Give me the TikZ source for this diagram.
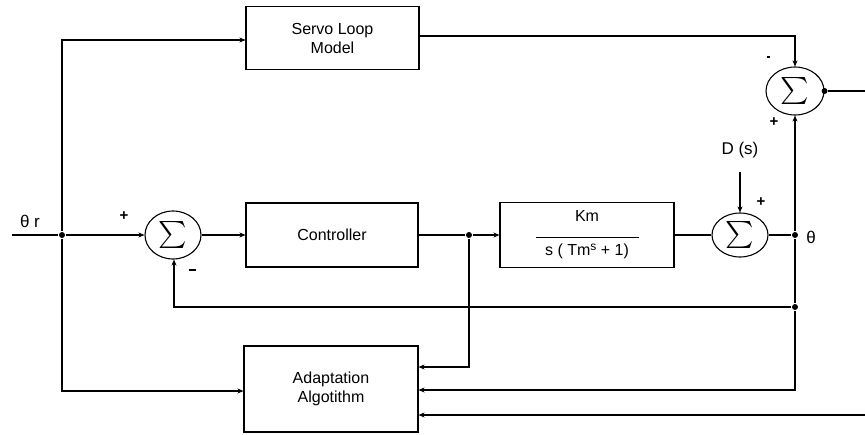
\documentclass[tikz,border=0pt]{standalone}
\usepackage{fontspec}
\setmainfont{Liberation Sans}
\usetikzlibrary{arrows.meta,shapes.geometric,calc}
\newcommand{\bigsig}{\scalebox{2.7}{$\sum$}}
\begin{document}
\begin{tikzpicture}[x=1pt,y=-1pt,line width=1.1pt,
  blk/.style={draw,rectangle,align=center,font=\fontsize{16}{19}\selectfont,inner sep=0pt},
  sumnode/.style={draw,ellipse,inner sep=0pt},
  arr/.style={-{Stealth[length=6pt,width=5pt]}},
  dotn/.style={circle,fill,inner sep=0pt,minimum size=6pt},
  lbl/.style={font=\fontsize{17}{19}\selectfont,inner sep=0pt},
  sgn/.style={font=\fontsize{15}{15}\selectfont\bfseries,inner sep=0pt}]
\useasboundingbox (0,0) rectangle (865,434);
% blocks
\node[blk,minimum width=173pt,minimum height=63pt] (servo) at (332.5,38) {Servo Loop\\Model};
\node[blk,minimum width=172pt,minimum height=64pt] (ctrl) at (332,235) {Controller};
\node[blk,minimum width=174pt,minimum height=65pt] (plant) at (587,235) {Km\\[-3pt]\rule{103pt}{1pt}\\[-1pt]s ( Tm\raisebox{5pt}{\fontsize{12}{12}\selectfont s} + 1)};
\node[blk,minimum width=174pt,minimum height=86pt] (adapt) at (331,389) {Adaptation\\Algotithm};
% summing junctions
\node[sumnode,minimum width=56pt,minimum height=48pt] (sum1) at (173,235) {\bigsig};
\node[sumnode,minimum width=56pt,minimum height=44pt] (sum2) at (740,235) {\bigsig};
\node[sumnode,minimum width=58pt,minimum height=48pt] (sum3) at (795,91) {\bigsig};
% junction points
\coordinate (in) at (12,235);
\node[dotn] (j1) at (62,235) {};
\node[dotn] (j2) at (469,235) {};
\node[dotn] (j3) at (795,235) {};
\node[dotn] (j4) at (795,307) {};
\node[dotn] (j5) at (sum3.east) {};
\coordinate (out) at (865,91);
\coordinate (dtop) at (740,172);
\coordinate (bot) at (865,415);
\coordinate (tl) at (62,40);
\coordinate (bl) at (62,391);
\coordinate (fb) at (174,307);
\coordinate (cl) at (469,367);
\coordinate (br) at (795,390);
\coordinate (sr) at (795,36);
% connectors
\draw (in) -- (j1);
\draw[arr] (j1) -- (sum1.west);
\draw[arr] (j1) -- (tl) -- (servo.west |- tl);
\draw[arr] (j1) -- (bl) -- (adapt.west |- bl);
\draw[arr] (servo.east |- sr) -- (sr) -- (sum3.north);
\draw (j5) -- (out);
\draw[arr] (sum1.east) -- (ctrl.west);
\draw (ctrl.east) -- (j2);
\draw[arr] (j2) -- (plant.west);
\draw[arr] (j2) -- (cl) -- (adapt.east |- cl);
\draw (plant.east) -- (sum2.west);
\draw[arr] (dtop) -- (sum2.north);
\draw (sum2.east) -- (j3);
\draw[arr] (j3) -- (sum3.south);
\draw (j3) -- (j4);
\draw[arr] (j4) -- (fb) -- (sum1.south -| fb);
\draw[arr] (j4) -- (br) -- (adapt.east |- br);
\draw[arr] (bot) -- (adapt.east |- bot);
% labels
\node[lbl] (thr) at (30,221) {θ r};
\node[lbl] (th) at (811,237) {θ};
\node[lbl] (ds) at (740,150) {D (s)};
\node[sgn] (p1) at (124,216) {+};
\node[sgn] (m1) at (192,270) {\rule{7pt}{1.3pt}};
\node[sgn] (m3) at (768,57) {\rule{3pt}{2pt}};
\node[sgn] (p3) at (774,122) {+};
\node[sgn] (p2) at (761,202) {+};
\end{tikzpicture}
\end{document}
